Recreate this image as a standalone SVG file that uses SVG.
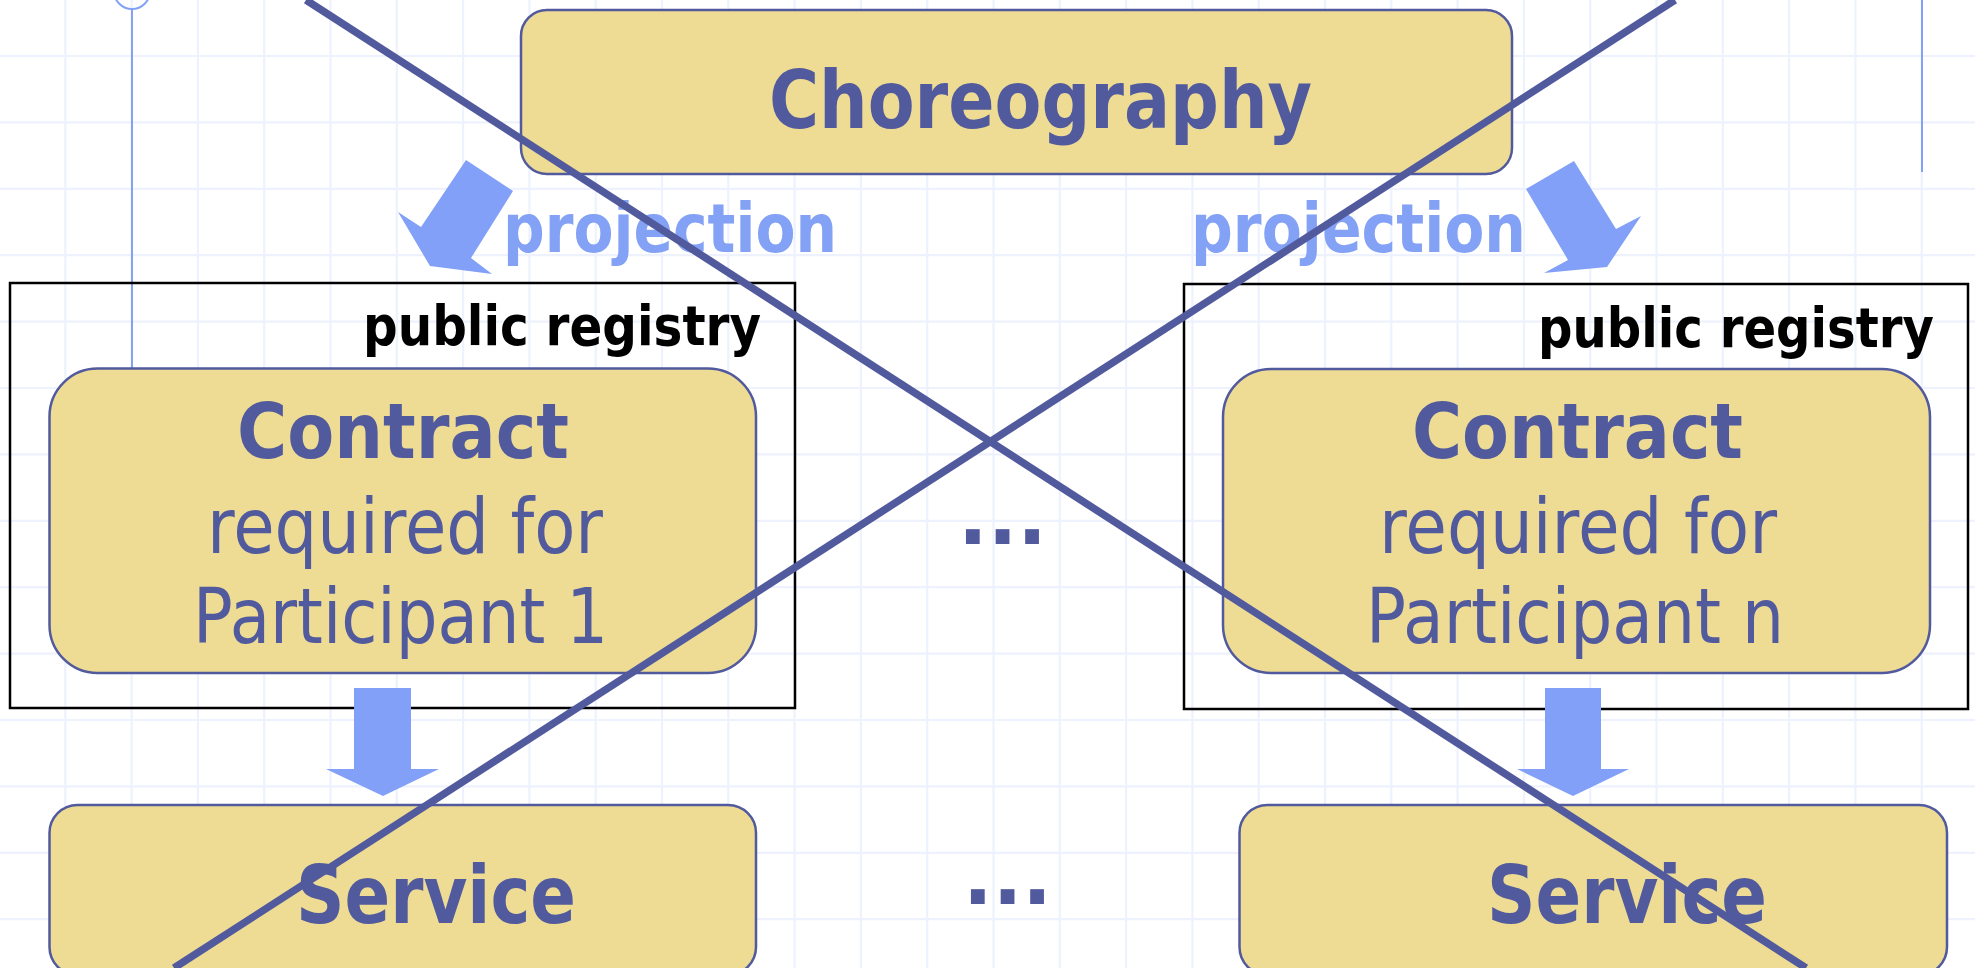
<svg xmlns="http://www.w3.org/2000/svg" width="1975" height="968" viewBox="0 0 1975 968">
  <style>
    .grid { stroke: #EDF2FE; stroke-width: 2.2; fill: none; }
    .guide { stroke: #83A1F5; stroke-width: 2; fill: none; }
    .box { fill: #EEDC94; stroke: #525A9E; stroke-width: 2.5; }
    .registry { fill: none; stroke: #000000; stroke-width: 2.5; }
    .txt { font-family: "DejaVu Sans", Verdana, sans-serif; fill: #525A9E; }
    .b { font-weight: bold; }
    .reg { font-family: "DejaVu Sans", Verdana, sans-serif; font-weight: bold; fill: #000000; font-size: 55px; }
    .proj { font-family: "DejaVu Sans", Verdana, sans-serif; font-weight: bold; fill: #83A1F5; font-size: 68px; }
    .arrow { fill: #82A0F7; stroke: none; }
    .strike { stroke: #525A9E; stroke-width: 7.5; fill: none; }
  </style>

  <rect width="1975" height="968" fill="#FFFFFF"/>

  <!-- background grid -->
  <path class="grid" d="M65.3 0V968M131.6 0V968M197.9 0V968M264.2 0V968M330.5 0V968M396.8 0V968M463.1 0V968M529.4 0V968M595.7 0V968M662 0V968M728.3 0V968M794.6 0V968M860.9 0V968M927.2 0V968M993.5 0V968M1059.8 0V968M1126.1 0V968M1192.4 0V968M1258.7 0V968M1325 0V968M1391.3 0V968M1457.6 0V968M1523.9 0V968M1590.2 0V968M1656.5 0V968M1722.8 0V968M1789.1 0V968M1855.4 0V968M1921.7 0V968
    M0 56H1975M0 122.4H1975M0 188.8H1975M0 255.2H1975M0 321.6H1975M0 388H1975M0 454.4H1975M0 520.8H1975M0 587.2H1975M0 653.6H1975M0 720H1975M0 786.4H1975M0 852.8H1975M0 919.2H1975"/>

  <!-- thin guide lines -->
  <g id="guides">
    <circle class="guide" cx="132" cy="-9" r="18"/>
    <line class="guide" x1="132" y1="9" x2="132" y2="369"/>
    <line class="guide" x1="1922" y1="0" x2="1922" y2="172" stroke-width="2.5"/>
  </g>

  <!-- registry frames -->
  <g id="registry-1">
    <rect class="registry" x="10" y="283" width="785" height="425"/>
    <text class="reg" x="363" y="345" textLength="398" lengthAdjust="spacingAndGlyphs">public registry</text>
  </g>
  <g id="registry-n">
    <rect class="registry" x="1184" y="284" width="784" height="425"/>
    <text class="reg" x="1538" y="347" textLength="396" lengthAdjust="spacingAndGlyphs">public registry</text>
  </g>

  <!-- choreography -->
  <g id="choreography">
    <rect class="box" x="521" y="10" width="991" height="164" rx="26" ry="26"/>
    <text class="txt b" x="769" y="128" font-size="80" textLength="543" lengthAdjust="spacingAndGlyphs">Choreography</text>
  </g>

  <!-- contracts -->
  <g id="contract-1">
    <rect class="box" x="49.5" y="368.5" width="706.5" height="304.5" rx="48" ry="48"/>
    <text class="txt b" x="237" y="458" font-size="76" textLength="332" lengthAdjust="spacingAndGlyphs">Contract</text>
    <text class="txt" x="207" y="553" font-size="77" textLength="396" lengthAdjust="spacingAndGlyphs">required for</text>
    <text class="txt" x="193" y="643" font-size="76" textLength="415" lengthAdjust="spacingAndGlyphs">Participant 1</text>
  </g>
  <g id="contract-n">
    <rect class="box" x="1223" y="369" width="707" height="304" rx="48" ry="48"/>
    <text class="txt b" x="1412" y="458" font-size="76" textLength="331" lengthAdjust="spacingAndGlyphs">Contract</text>
    <text class="txt" x="1379" y="553" font-size="77" textLength="398" lengthAdjust="spacingAndGlyphs">required for</text>
    <text class="txt" x="1366" y="643" font-size="76" textLength="418" lengthAdjust="spacingAndGlyphs">Participant n</text>
  </g>

  <!-- services -->
  <g id="service-1">
    <rect class="box" x="49.5" y="805" width="706.5" height="170" rx="28" ry="28"/>
    <text class="txt b" x="296" y="923" font-size="80" textLength="280" lengthAdjust="spacingAndGlyphs">Service</text>
  </g>
  <g id="service-n">
    <rect class="box" x="1239.5" y="805" width="707.5" height="170" rx="28" ry="28"/>
    <text class="txt b" x="1487" y="923" font-size="80" textLength="280" lengthAdjust="spacingAndGlyphs">Service</text>
  </g>

  <!-- ellipses between participants -->
  <g id="ellipsis-contracts">
    <text class="txt b" x="958" y="544" font-size="78">...</text>
  </g>
  <g id="ellipsis-services">
    <text class="txt b" x="963" y="904" font-size="78">...</text>
  </g>

  <!-- connectors: projection and implementation arrows -->
  <g id="connectors">
    <polygon class="arrow" points="466,160 513,191 471,258 492,274 430,266 398,212 421,227"/>
    <text class="proj" x="503" y="252" textLength="334" lengthAdjust="spacingAndGlyphs">projection</text>
    <polygon class="arrow" points="1526,189 1574,161 1616,229 1641,216 1607,267 1544,273 1568,260"/>
    <text class="proj" x="1191" y="252" textLength="335" lengthAdjust="spacingAndGlyphs">projection</text>
    <polygon class="arrow" points="354,688 411,688 411,769 439,769 383,796 326,769 354,769"/>
    <polygon class="arrow" points="1545,688 1601,688 1601,769 1629,769 1573,796 1517,769 1545,769"/>
  </g>

  <!-- cross-out strokes -->
  <g id="cross-out">
    <line class="strike" x1="306" y1="0" x2="1806" y2="968"/>
    <line class="strike" x1="1675" y1="0" x2="174" y2="968"/>
  </g>
</svg>
